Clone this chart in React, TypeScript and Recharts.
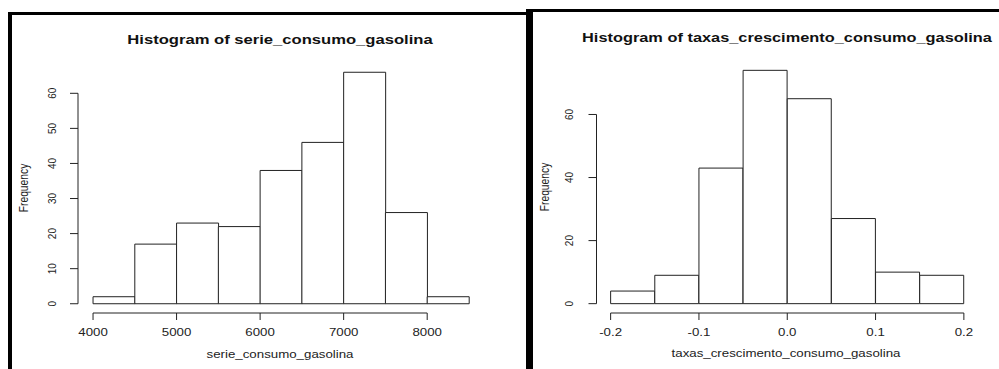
import { BarChart, Bar, XAxis, YAxis, ReferenceLine } from 'recharts';

const gasBinEdges = [4000, 4500, 5000, 5500, 6000, 6500, 7000, 7500, 8000, 8500];
const gasCounts = [2, 17, 23, 22, 38, 46, 66, 26, 2];
const gasXTicks = [4000, 5000, 6000, 7000, 8000];
const gasYTicks = [0, 10, 20, 30, 40, 50, 60];

const rateBinEdges = [-0.2, -0.15, -0.1, -0.05, 0, 0.05, 0.1, 0.15, 0.2];
const rateCounts = [4, 9, 43, 74, 65, 27, 10, 9];
const rateXTicks = [-0.2, -0.1, 0, 0.1, 0.2];
const rateYTicks = [0, 20, 40, 60];

const FONT = '"Liberation Sans", Arial, sans-serif';
const INK = '#222';
// the screenshot is stretched sideways a bit
const SX = 1.33;

function toBins(edges: number[], counts: number[]) {
  return counts.map((count, i) => ({ mid: (edges[i] + edges[i + 1]) / 2, count }));
}

// R pads the plot region by 4% on each side
function rDomain(lo: number, hi: number): [number, number] {
  const pad = (hi - lo) * 0.04;
  return [lo - pad, hi + pad];
}

function XTick({ x, y, payload, fmt }: any) {
  return (
    <text
      transform={`translate(${x},${y + 16}) scale(${SX},1)`}
      textAnchor="middle"
      fontSize={10}
      fontFamily={FONT}
      fill={INK}
    >
      {fmt(payload.value)}
    </text>
  );
}

function YTick({ x, y, payload, dx }: any) {
  return (
    <text
      transform={`translate(${x + dx},${y}) rotate(-90)`}
      textAnchor="middle"
      fontSize={10}
      fontFamily={FONT}
      fill={INK}
    >
      {payload.value}
    </text>
  );
}

interface HistProps {
  edges: number[];
  counts: number[];
  xTicks: number[];
  yTicks: number[];
  width: number;
  margin: { top: number; right: number; bottom: number; left: number };
  yAxisWidth: number;
  yLabelDx: number;
  fmt: (v: number) => string;
  style: React.CSSProperties;
}

function Histogram({ edges, counts, xTicks, yTicks, width, margin, yAxisWidth, yLabelDx, fmt, style }: HistProps) {
  const data = toBins(edges, counts);
  const xDomain = rDomain(edges[0], edges[edges.length - 1]);
  const yDomain = rDomain(0, Math.max(...counts));
  return (
    <div style={style}>
      <BarChart width={width} height={369} data={data} margin={margin} barCategoryGap={0} barGap={0}>
        <XAxis
          type="number"
          dataKey="mid"
          domain={xDomain}
          allowDataOverflow
          ticks={xTicks}
          interval={0}
          axisLine={false}
          stroke={INK}
          tickSize={7}
          tickMargin={0}
          height={30}
          tick={<XTick fmt={fmt} />}
        />
        <YAxis
          type="number"
          domain={yDomain}
          allowDataOverflow
          ticks={yTicks}
          interval={0}
          axisLine={false}
          stroke={INK}
          tickSize={8}
          tickMargin={0}
          width={yAxisWidth}
          tick={<YTick dx={yLabelDx} />}
        />
        <Bar dataKey="count" fill="#fff" stroke={INK} strokeWidth={1} isAnimationActive={false} />
        <ReferenceLine
          segment={[
            { x: xTicks[0], y: yDomain[0] },
            { x: xTicks[xTicks.length - 1], y: yDomain[0] },
          ]}
          stroke={INK}
          ifOverflow="visible"
        />
        <ReferenceLine
          segment={[
            { x: xDomain[0], y: yTicks[0] },
            { x: xDomain[0], y: yTicks[yTicks.length - 1] },
          ]}
          stroke={INK}
          ifOverflow="visible"
        />
      </BarChart>
    </div>
  );
}

function Caption({ x, y, text, bold = false, size = 10, rotate = false }: any) {
  const t = rotate
    ? `translate(${x},${y}) scale(1.2,1) rotate(-90)`
    : `translate(${x},${y}) scale(${SX},1)`;
  return (
    <text
      transform={t}
      textAnchor="middle"
      fontSize={size}
      fontWeight={bold ? 'bold' : 'normal'}
      fontFamily={FONT}
      fill={bold ? '#111' : INK}
    >
      {text}
    </text>
  );
}

export default function App() {
  return (
    <div style={{ position: 'absolute', left: 0, top: 0, width: 999, height: 369, background: '#fff', overflow: 'hidden' }}>
      <Histogram
        edges={gasBinEdges}
        counts={gasCounts}
        xTicks={gasXTicks}
        yTicks={gasYTicks}
        width={526}
        margin={{ top: 63, right: 42, bottom: 26, left: 18 }}
        yAxisWidth={60}
        yLabelDx={-14}
        fmt={(v: number) => String(v)}
        style={{ position: 'absolute', left: 0, top: 0 }}
      />
      <Histogram
        edges={rateBinEdges}
        counts={rateCounts}
        xTicks={rateXTicks}
        yTicks={rateYTicks}
        width={466}
        margin={{ top: 61, right: 21, bottom: 26, left: 13.5 }}
        yAxisWidth={50}
        yLabelDx={-16}
        fmt={(v: number) => v.toFixed(1)}
        style={{ position: 'absolute', left: 533, top: 0 }}
      />
      <svg width={999} height={369} style={{ position: 'absolute', left: 0, top: 0, pointerEvents: 'none' }}>
        <rect x={8} y={12} width={4} height={357} fill="#000" />
        <rect x={8} y={12} width={522} height={3} fill="#000" />
        <rect x={526} y={9} width={7} height={360} fill="#000" />
        <rect x={529} y={9} width={470} height={3} fill="#000" />
        <Caption x={280} y={43.5} text="Histogram of serie_consumo_gasolina" bold size={12.5} />
        <Caption x={787} y={42} text="Histogram of taxas_crescimento_consumo_gasolina" bold size={12.3} />
        <Caption x={28} y={188} text="Frequency" size={10.3} rotate />
        <Caption x={549} y={187} text="Frequency" size={10.3} rotate />
        <Caption x={280} y={357.5} text="serie_consumo_gasolina" />
        <Caption x={786} y={357} text="taxas_crescimento_consumo_gasolina" />
      </svg>
    </div>
  );
}
